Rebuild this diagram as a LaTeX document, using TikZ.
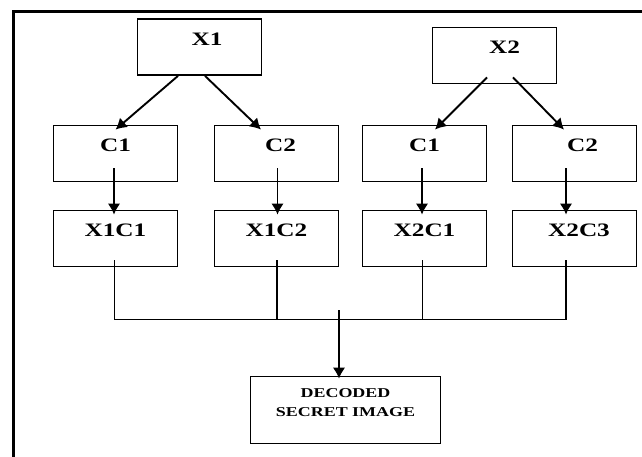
\documentclass[tikz,border=0pt]{standalone}
\usepackage{fontspec}
\setmainfont{Liberation Serif}[FakeStretch=1.33]
\usetikzlibrary{arrows.meta}
\begin{document}
\begin{tikzpicture}[x=1pt,y=-1pt]
        \tikzset{box/.style = {draw,line width=1.8pt,minimum width=124pt,minimum height=56pt,
            font=\bfseries\fontsize{19}{22}\selectfont,text height=13pt,text depth=17pt}}
        \tikzset{arrow/.style = {line width=1.9pt,-{Latex[length=11pt,width=12.5pt]}}}
        \tikzset{bus/.style = {line width=0.8pt}}

        \useasboundingbox (0,0) rectangle (642,456);
        \clip (0,0) rectangle (642,456);
        \draw[line width=3pt] (13,11.5) rectangle (660,480);

        \node[box] (x1) at (199.5,47) {\hspace*{15pt}X1};
        \node[box] (x2) at (494.5,55.5) {\hspace*{20pt}X2};

        \node[box] (c1) at (115.5,153.5) {C1};
        \node[box] (c2) at (276.5,153.5) {\hspace*{8pt}C2};
        \node[box] (c3) at (424.5,153.5) {C1};
        \node[box] (c4) at (574.5,153.5) {\hspace*{16pt}C2};

        \node[box] (x1c1) at (115.5,238.5) {X1C1};
        \node[box] (x1c2) at (276.5,238.5) {X1C2};
        \node[box] (x2c1) at (424.5,238.5) {X2C1};
        \node[box] (x2c3) at (574.5,238.5) {\hspace*{9pt}X2C3};

        \node[box,minimum width=190pt,minimum height=67pt,align=center,
            font=\bfseries\fontsize{13.5}{19}\selectfont,text height=28pt,text depth=16pt]
            (decoded) at (345.5,410) {DECODED\\SECRET IMAGE};

        \draw[arrow] ([xshift=-21.5pt]x1.south) -- ([yshift=-5pt]c1.north);
        \draw[arrow] ([xshift=5.5pt]x1.south) -- ([xshift=-15.5pt,yshift=-5pt]c2.north);
        \draw[arrow] ([xshift=-7.5pt,yshift=7pt]x2.south) -- ([xshift=10.5pt,yshift=-5pt]c3.north);
        \draw[arrow] ([xshift=18.5pt,yshift=7pt]x2.south) -- ([xshift=-10.5pt,yshift=-5pt]c4.north);

        \draw[arrow] ([xshift=-1.5pt,yshift=14pt]c1.south) -- ([xshift=-1.5pt,yshift=-5pt]x1c1.north);
        \draw[arrow] ([xshift=1pt,yshift=14pt]c2.south) -- ([xshift=1pt,yshift=-5pt]x1c2.north);
        \draw[arrow] ([xshift=-2.5pt,yshift=14pt]c3.south) -- ([xshift=-2.5pt,yshift=-5pt]x2c1.north);
        \draw[arrow] ([xshift=-8.5pt,yshift=14pt]c4.south) -- ([xshift=-8.5pt,yshift=-5pt]x2c3.north);

        \coordinate (join) at (339,319);
        \draw[bus] ([xshift=-1.5pt,yshift=7pt]x1c1.south) |- (join);
        \draw[bus] ([xshift=-8.5pt,yshift=7pt]x2c3.south) |- (join);
        \draw[bus,line width=1.5pt] ([xshift=-8.5pt,yshift=7pt]x2c3.south) -- ++(0,59);
        \draw[bus,line width=1.5pt] ([xshift=0.5pt,yshift=7pt]x1c2.south) -- ++(0,59);
        \draw[bus] ([xshift=-2.5pt,yshift=7pt]x2c1.south) -- ++(0,59);

        \draw[arrow] ([yshift=9pt]join) -- ([yshift=-3pt]join |- decoded.north);
    \end{tikzpicture}
\end{document}
